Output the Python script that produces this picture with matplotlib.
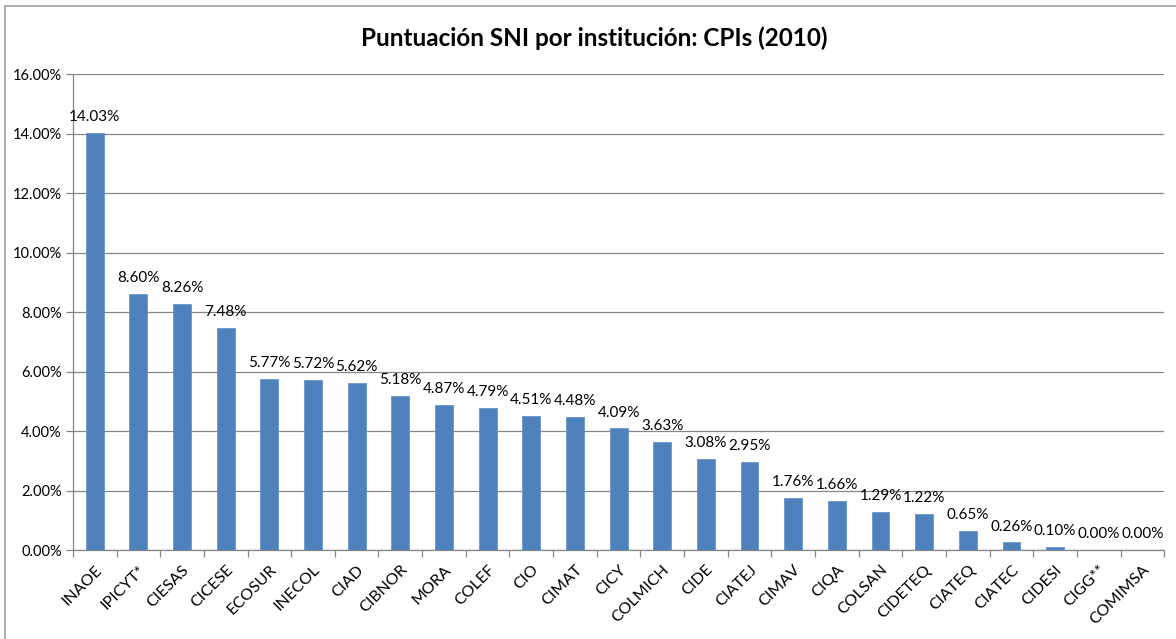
import numpy as np
import matplotlib.pyplot as plt
from matplotlib.patches import Rectangle
from matplotlib.ticker import FuncFormatter, MultipleLocator

# Data
instituciones = ['INAOE', 'IPICYT*', 'CIESAS', 'CICESE', 'ECOSUR', 'INECOL', 'CIAD',
                 'CIBNOR', 'MORA', 'COLEF', 'CIO', 'CIMAT', 'CICY', 'COLMICH', 'CIDE',
                 'CIATEJ', 'CIMAV', 'CIQA', 'COLSAN', 'CIDETEQ', 'CIATEQ', 'CIATEC',
                 'CIDESI', 'CIGG**', 'COMIMSA']
puntuacion = [14.03, 8.60, 8.26, 7.48, 5.77, 5.72, 5.62, 5.18, 4.87, 4.79, 4.51, 4.48,
              4.09, 3.63, 3.08, 2.95, 1.76, 1.66, 1.29, 1.22, 0.65, 0.26, 0.10, 0.00, 0.00]

plt.rcParams['font.family'] = ['Lato', 'DejaVu Sans']

fig = plt.figure(figsize=(11.76, 6.39), dpi=100)
ax = fig.add_axes([0.062, 0.139, 0.928, 0.745])

x = np.arange(len(instituciones))
bar_color = '#4F81BD'
ax.bar(x, puntuacion, width=0.41, color=bar_color, edgecolor='#6A94C8', linewidth=0.6, zorder=3)

for xi, v in zip(x, puntuacion):
    ax.text(xi, v + 0.3, f'{v:.2f}%', ha='center', va='bottom', fontsize=11, color='black')

ax.set_xlim(-0.5, len(instituciones) - 0.5)
ax.set_ylim(0, 16)
ax.yaxis.set_major_locator(MultipleLocator(2))
ax.yaxis.set_major_formatter(FuncFormatter(lambda v, p: f'{v:.2f}%'))
ax.grid(axis='y', color='#868686', linewidth=0.9, zorder=0)

ax.set_xticks(x)
ax.set_xticklabels(instituciones, rotation=45, ha='right', rotation_mode='anchor', fontsize=11.5)
ax.tick_params(axis='x', length=0, pad=9)
ax.set_xticks(np.arange(-0.5, len(instituciones), 1), minor=True)
ax.tick_params(axis='x', which='minor', length=5, color='#868686', width=0.9)
ax.tick_params(axis='y', length=5, color='#868686', width=0.9, labelsize=10.5, pad=3)

for s in ['top', 'right']:
    ax.spines[s].set_visible(False)
for s in ['left', 'bottom']:
    ax.spines[s].set_color('#868686')
    ax.spines[s].set_linewidth(0.9)

fig.text(0.505, 0.94, 'Puntuación SNI por institución: CPIs (2010)', ha='center', va='center',
         fontsize=17.5, fontweight='bold')

# chart frame
fig.patches.append(Rectangle((0.004, -0.01), 1.1, 1.0, transform=fig.transFigure,
                             fill=False, edgecolor='#A0A0A0', linewidth=1.2))

fig.savefig('out.png', dpi=100)
